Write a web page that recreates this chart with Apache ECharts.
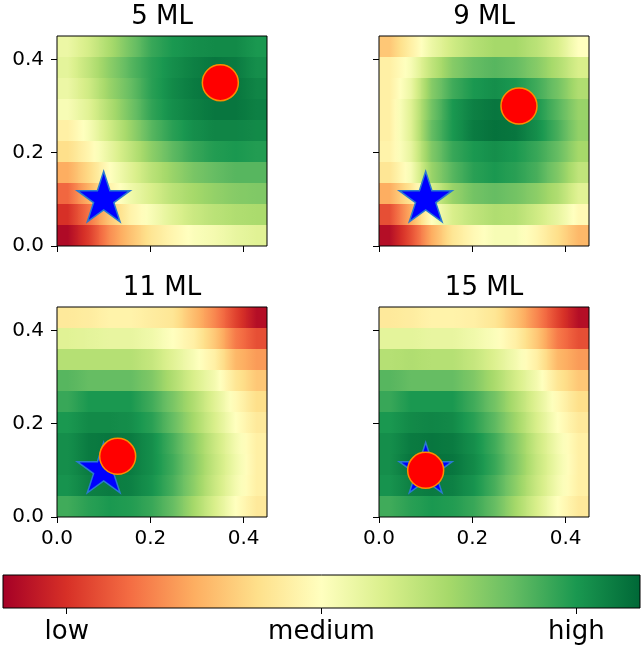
<!DOCTYPE html>
<html>
<head>
<meta charset="utf-8">
<script src="https://cdn.jsdelivr.net/npm/echarts@6/dist/echarts.min.js"></script>
<style>
  html, body { margin: 0; padding: 0; background: #fff; }
  #chart { width: 641px; height: 652px; }
</style>
</head>
<body>
<div id="chart"></div>
<script>
// 面板标题
const panelTitles = ['5 ML', '9 ML', '11 ML', '15 ML']

// 每个面板 10 行 x 10 列，行从上 (y=0.45) 到下 (y=0)，数值 0 = low, 1 = high
const values5 = [
  [0.55, 0.61, 0.69, 0.78, 0.86, 0.90, 0.92, 0.93, 0.93, 0.90],
  [0.57, 0.65, 0.74, 0.82, 0.88, 0.92, 0.95, 0.97, 0.96, 0.92],
  [0.55, 0.62, 0.72, 0.80, 0.88, 0.93, 0.96, 0.98, 0.97, 0.94],
  [0.52, 0.58, 0.68, 0.78, 0.87, 0.92, 0.95, 0.97, 0.97, 0.95],
  [0.45, 0.52, 0.62, 0.72, 0.82, 0.88, 0.92, 0.94, 0.94, 0.93],
  [0.40, 0.47, 0.56, 0.65, 0.74, 0.81, 0.86, 0.89, 0.90, 0.89],
  [0.30, 0.39, 0.50, 0.58, 0.66, 0.72, 0.77, 0.80, 0.82, 0.82],
  [0.19, 0.31, 0.46, 0.54, 0.60, 0.66, 0.70, 0.73, 0.75, 0.76],
  [0.10, 0.21, 0.35, 0.46, 0.52, 0.58, 0.63, 0.66, 0.68, 0.69],
  [0.02, 0.12, 0.25, 0.34, 0.42, 0.47, 0.51, 0.53, 0.56, 0.58],
]
const values9 = [
  [0.35, 0.45, 0.55, 0.62, 0.67, 0.70, 0.70, 0.66, 0.60, 0.50],
  [0.45, 0.52, 0.65, 0.75, 0.80, 0.82, 0.80, 0.75, 0.68, 0.60],
  [0.45, 0.55, 0.75, 0.85, 0.90, 0.92, 0.90, 0.85, 0.78, 0.68],
  [0.45, 0.58, 0.78, 0.90, 0.95, 0.97, 0.96, 0.90, 0.82, 0.72],
  [0.45, 0.58, 0.80, 0.90, 0.96, 0.98, 0.97, 0.92, 0.84, 0.73],
  [0.46, 0.56, 0.76, 0.86, 0.90, 0.92, 0.90, 0.86, 0.80, 0.70],
  [0.42, 0.52, 0.72, 0.82, 0.88, 0.90, 0.88, 0.84, 0.76, 0.65],
  [0.30, 0.42, 0.60, 0.72, 0.78, 0.80, 0.78, 0.74, 0.68, 0.58],
  [0.15, 0.30, 0.50, 0.60, 0.65, 0.68, 0.67, 0.62, 0.56, 0.48],
  [0.03, 0.15, 0.30, 0.42, 0.48, 0.52, 0.52, 0.47, 0.40, 0.32],
]
const values11 = [
  [0.43, 0.44, 0.46, 0.46, 0.44, 0.42, 0.33, 0.24, 0.13, 0.03],
  [0.58, 0.57, 0.56, 0.56, 0.54, 0.50, 0.45, 0.35, 0.22, 0.15],
  [0.67, 0.67, 0.67, 0.67, 0.64, 0.58, 0.52, 0.45, 0.32, 0.27],
  [0.82, 0.80, 0.80, 0.80, 0.76, 0.68, 0.60, 0.53, 0.42, 0.35],
  [0.86, 0.90, 0.90, 0.90, 0.85, 0.77, 0.68, 0.58, 0.48, 0.40],
  [0.90, 0.93, 0.93, 0.92, 0.88, 0.80, 0.70, 0.60, 0.50, 0.43],
  [0.92, 0.96, 0.97, 0.96, 0.92, 0.84, 0.74, 0.63, 0.53, 0.45],
  [0.92, 0.96, 0.97, 0.96, 0.92, 0.85, 0.75, 0.64, 0.54, 0.45],
  [0.91, 0.95, 0.96, 0.95, 0.91, 0.84, 0.74, 0.63, 0.53, 0.45],
  [0.85, 0.88, 0.90, 0.89, 0.86, 0.80, 0.70, 0.60, 0.50, 0.43],
]
const values15 = [
  [0.43, 0.44, 0.46, 0.46, 0.45, 0.42, 0.34, 0.24, 0.13, 0.03],
  [0.57, 0.57, 0.56, 0.56, 0.54, 0.51, 0.45, 0.35, 0.22, 0.15],
  [0.67, 0.68, 0.67, 0.67, 0.64, 0.59, 0.53, 0.45, 0.32, 0.27],
  [0.82, 0.80, 0.80, 0.80, 0.76, 0.69, 0.61, 0.53, 0.42, 0.35],
  [0.86, 0.90, 0.90, 0.90, 0.85, 0.78, 0.68, 0.58, 0.48, 0.40],
  [0.90, 0.93, 0.94, 0.93, 0.88, 0.81, 0.71, 0.60, 0.50, 0.43],
  [0.92, 0.96, 0.97, 0.96, 0.92, 0.85, 0.75, 0.63, 0.53, 0.45],
  [0.92, 0.97, 0.98, 0.97, 0.93, 0.86, 0.76, 0.64, 0.54, 0.45],
  [0.91, 0.95, 0.96, 0.95, 0.91, 0.84, 0.74, 0.63, 0.53, 0.45],
  [0.85, 0.88, 0.90, 0.89, 0.86, 0.80, 0.70, 0.60, 0.50, 0.43],
]
const panelValues = [values5, values9, values11, values15]

// 标记点 蓝色星 / 红色圆
const starPoints = [[0.1, 0.1], [0.1, 0.1], [0.1, 0.1], [0.1, 0.1]]
const circlePoints = [[0.35, 0.35], [0.3, 0.3], [0.13, 0.13], [0.1, 0.1]]

// 坐标轴刻度
const tickValues = [0, 0.2, 0.4]
const colorbarTicks = [0.1, 0.5, 0.9]
const colorbarLabels = ['low', 'medium', 'high']

// RdYlGn 色带
const rdYlGn = ['#a50026', '#d73027', '#f46d43', '#fdae61', '#fee08b', '#ffffbf',
  '#d9ef8b', '#a6d96a', '#66bd63', '#1a9850', '#006837']

const axisMax = 0.45
const step = axisMax / 10
const font = 'DejaVu Sans'

const cmapRgb = rdYlGn.map((h) => [1, 3, 5].map((i) => parseInt(h.slice(i, i + 2), 16)))
function cmap(t) {
  t = Math.max(0, Math.min(1, t))
  const p = t * (cmapRgb.length - 1)
  const i = Math.min(Math.floor(p), cmapRgb.length - 2)
  const f = p - i
  const a = cmapRgb[i], b = cmapRgb[i + 1]
  return 'rgb(' + a.map((v, k) => Math.round(v + (b[k] - v) * f)).join(',') + ')'
}

// 面板位置
const panelBoxes = [
  { left: 57, top: 36 },
  { left: 379, top: 36 },
  { left: 57, top: 307 },
  { left: 379, top: 307 },
]

const grids = panelBoxes.map((b) => ({
  left: b.left, top: b.top, width: 210, height: 210,
  show: true, z: 3, backgroundColor: 'transparent',
  borderColor: '#000', borderWidth: 1,
}))
grids.push({
  left: 3, top: 575, width: 637, height: 33,
  show: true, z: 3, backgroundColor: 'transparent',
  borderColor: '#000', borderWidth: 1,
})

const labelStyle = { color: '#000', fontSize: 20, fontFamily: font }
const xAxes = panelBoxes.map((b, i) => ({
  gridIndex: i, type: 'value', min: 0, max: axisMax,
  axisLine: { show: false, onZero: false },
  splitLine: { show: false },
  axisTick: { show: true, customValues: tickValues, length: 6, lineStyle: { color: '#000', width: 1 } },
  axisLabel: {
    show: i >= 2, customValues: tickValues, margin: 12,
    formatter: (v) => v.toFixed(1), ...labelStyle,
  },
}))
const yAxes = panelBoxes.map((b, i) => ({
  gridIndex: i, type: 'value', min: 0, max: axisMax,
  axisLine: { show: false, onZero: false },
  splitLine: { show: false },
  axisTick: { show: true, customValues: tickValues, length: 6, lineStyle: { color: '#000', width: 1 } },
  axisLabel: {
    show: i % 2 === 0, customValues: tickValues, margin: 13,
    formatter: (v) => v.toFixed(1), ...labelStyle,
  },
}))
// 色条坐标轴
xAxes.push({
  gridIndex: 4, type: 'value', min: 0, max: 1,
  axisLine: { show: false, onZero: false },
  splitLine: { show: false },
  axisTick: { show: true, customValues: colorbarTicks, length: 6, lineStyle: { color: '#000', width: 1 } },
  axisLabel: {
    customValues: colorbarTicks, margin: 11,
    formatter: (v) => colorbarLabels[colorbarTicks.findIndex((t) => Math.abs(t - v) < 1e-6)],
    color: '#000', fontSize: 26, fontFamily: font,
  },
})
yAxes.push({
  gridIndex: 4, type: 'value', min: 0, max: 1, show: false,
})

// 热力图 自定义系列 水平方向渐变
function heatSeries(values, idx) {
  const nRows = values.length
  const nCols = values[0].length
  const data = []
  values.forEach((row, r) => row.forEach((v, c) => {
    data.push([(c + 0.5) * step, (nRows - 1 - r + 0.5) * step, v, r, c])
  }))
  return {
    type: 'custom',
    xAxisIndex: idx,
    yAxisIndex: idx,
    clip: true,
    z: 1,
    silent: true,
    data: data,
    renderItem(params, api) {
      const x = api.value(0), y = api.value(1), v = api.value(2)
      const r = api.value(3), c = api.value(4)
      const row = values[r]
      const vl = c > 0 ? (row[c - 1] + v) / 2 : v
      const vr = c < nCols - 1 ? (row[c + 1] + v) / 2 : v
      const p0 = api.coord([x - step / 2, y + step / 2])
      const p1 = api.coord([x + step / 2, y - step / 2])
      return {
        type: 'rect',
        shape: { x: p0[0], y: p0[1], width: p1[0] - p0[0] + 0.6, height: p1[1] - p0[1] + 0.6 },
        style: {
          fill: {
            type: 'linear', x: 0, y: 0, x2: 1, y2: 0,
            colorStops: [
              { offset: 0, color: cmap(vl) },
              { offset: 0.25, color: cmap((vl + v) / 2) },
              { offset: 0.5, color: cmap(v) },
              { offset: 0.75, color: cmap((v + vr) / 2) },
              { offset: 1, color: cmap(vr) },
            ],
          },
        },
      }
    },
  }
}

const starPath = 'path://M100 0L122.45 69.1L195.11 69.1L136.33 111.8L158.78 180.9L100 138.2L41.22 180.9L63.67 111.8L4.89 69.1L77.55 69.1Z'

const series = []
panelValues.forEach((vals, i) => {
  series.push(heatSeries(vals, i))
  series.push({
    type: 'scatter', xAxisIndex: i, yAxisIndex: i, z: 4, silent: true,
    symbol: starPath, symbolSize: [53, 50.5], symbolOffset: [0, -2.7],
    itemStyle: { color: '#0000ff', borderColor: '#2a7ad0', borderWidth: 1.5, opacity: 1 },
    data: [starPoints[i]],
  })
  series.push({
    type: 'scatter', xAxisIndex: i, yAxisIndex: i, z: 5, silent: true,
    symbol: 'circle', symbolSize: 36,
    itemStyle: { color: '#ff0000', borderColor: '#ff8c00', borderWidth: 1.5, opacity: 1 },
    data: [circlePoints[i]],
  })
})
// 色条
series.push({
  type: 'custom', xAxisIndex: 4, yAxisIndex: 4, z: 1, silent: true,
  data: [[0, 0]],
  renderItem(params, api) {
    const p0 = api.coord([0, 1])
    const p1 = api.coord([1, 0])
    return {
      type: 'rect',
      shape: { x: p0[0], y: p0[1], width: p1[0] - p0[0], height: p1[1] - p0[1] },
      style: {
        fill: {
          type: 'linear', x: 0, y: 0, x2: 1, y2: 0,
          colorStops: rdYlGn.map((c, k) => ({ offset: k / (rdYlGn.length - 1), color: c })),
        },
      },
    }
  },
})

const titles = panelBoxes.map((b, i) => ({
  text: panelTitles[i],
  left: b.left + 105,
  top: b.top - 34,
  textAlign: 'center',
  padding: 0,
  textStyle: { color: '#000', fontSize: 26, fontWeight: 'normal', fontFamily: font, lineHeight: 30 },
}))

const myChart = echarts.init(document.getElementById('chart'), null, { renderer: 'canvas' })
myChart.setOption({
  animation: false,
  backgroundColor: '#fff',
  title: titles,
  grid: grids,
  xAxis: xAxes,
  yAxis: yAxes,
  series: series,
})
</script>
</body>
</html>
